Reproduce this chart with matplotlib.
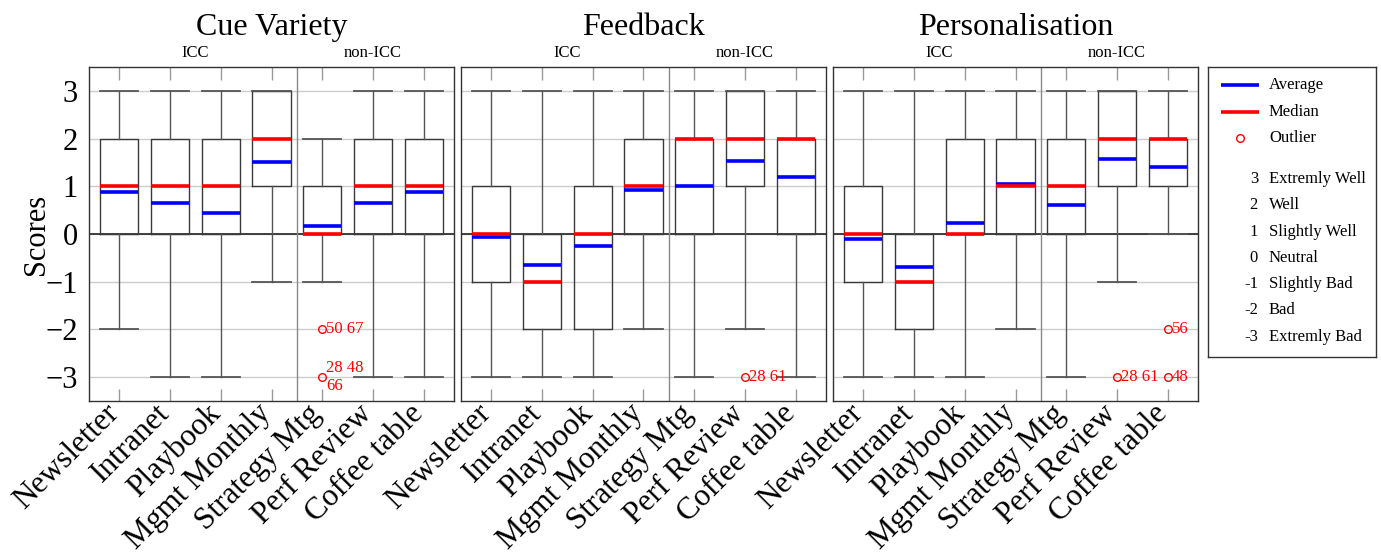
import numpy as np
import matplotlib
matplotlib.use("Agg")
from matplotlib import pyplot as plt
from matplotlib.transforms import ScaledTranslation

plt.rcParams['font.family'] = ['Liberation Serif', 'DejaVu Serif']
plt.rcParams['mathtext.fontset'] = 'stix'

categories = ['Newsletter', 'Intranet', 'Playbook', 'Mgmt Monthly',
              'Strategy Mtg', 'Perf Review', 'Coffee table']
panel_titles = ['Cue Variety', 'Feedback', 'Personalisation']

# Cue Variety
cue_whislo = [-2, -3, -3, -1, -1, -3, -3]
cue_q1 = [0, 0, 0, 1, 0, 0, 0]
cue_med = [1, 1, 1, 2, 0, 1, 1]
cue_q3 = [2, 2, 2, 3, 1, 2, 2]
cue_whishi = [3, 3, 3, 3, 2, 3, 3]
cue_mean = [0.87, 0.66, 0.45, 1.50, 0.16, 0.66, 0.87]
cue_fliers = {4: [(-2, '50 67'), (-3, '28 48\n66')]}

# Feedback
fb_whislo = [-3, -3, -3, -2, -3, -2, -3]
fb_q1 = [-1, -2, -2, 0, 0, 1, 0]
fb_med = [0, -1, 0, 1, 2, 2, 2]
fb_q3 = [1, 0, 1, 2, 2, 3, 2]
fb_whishi = [3, 3, 3, 3, 3, 3, 3]
fb_mean = [-0.06, -0.66, -0.26, 0.92, 1.00, 1.52, 1.19]
fb_fliers = {5: [(-3, '28 61')]}

# Personalisation
pers_whislo = [-3, -3, -3, -2, -3, -1, 0]
pers_q1 = [-1, -2, 0, 0, 0, 1, 1]
pers_med = [0, -1, 0, 1, 1, 2, 2]
pers_q3 = [1, 0, 2, 2, 2, 3, 2]
pers_whishi = [3, 3, 3, 3, 3, 3, 3]
pers_mean = [-0.10, -0.69, 0.23, 1.04, 0.60, 1.58, 1.40]
pers_fliers = {5: [(-3, '28 61')], 6: [(-2, '56'), (-3, '48')]}

scale_values = [3, 2, 1, 0, -1, -2, -3]
scale_labels = ['Extremly Well', 'Well', 'Slightly Well', 'Neutral',
                'Slightly Bad', 'Bad', 'Extremly Bad']

panels = [
    (cue_whislo, cue_q1, cue_med, cue_q3, cue_whishi, cue_mean, cue_fliers),
    (fb_whislo, fb_q1, fb_med, fb_q3, fb_whishi, fb_mean, fb_fliers),
    (pers_whislo, pers_q1, pers_med, pers_q3, pers_whishi, pers_mean, pers_fliers),
]

BIG = 22
XLAB = 22.5
TITLE = 23
SMALL = 12
box_w = 0.75
edge = '#3a3a3a'

fig = plt.figure(figsize=(13.81, 5.53), dpi=100)
lefts = [89, 461, 833]
axes = []
for i, left in enumerate(lefts):
    ax = fig.add_axes([left / 1381, (553 - 401) / 553, 365 / 1381, 334 / 553])
    axes.append(ax)

for i, (ax, data) in enumerate(zip(axes, panels)):
    whislo, q1, med, q3, whishi, mean, fliers = data
    pos = np.arange(1, len(categories) + 1)
    stats = []
    for k in range(len(categories)):
        stats.append(dict(med=med[k], q1=q1[k], q3=q3[k], whislo=whislo[k],
                          whishi=whishi[k], mean=mean[k],
                          fliers=[v for v, _ in fliers.get(k, [])]))

    ax.set_axisbelow(True)
    ax.grid(axis='y', color='#cccccc', lw=1)
    ax.axhline(0, color='#222222', lw=1.2, zorder=1.5)
    ax.axvline(4.5, color='#888888', lw=1, zorder=1.5)

    ax.bxp(stats, positions=pos, widths=box_w, capwidths=box_w,
           showmeans=True, meanline=True, showfliers=True,
           boxprops=dict(color=edge, lw=1),
           whiskerprops=dict(color='#555555', lw=1),
           capprops=dict(color='#555555', lw=1.3),
           medianprops=dict(color='red', lw=2.6, solid_capstyle='butt', zorder=4),
           meanprops=dict(color='blue', lw=2.6, linestyle='-', solid_capstyle='butt', zorder=3.5),
           flierprops=dict(marker='o', mfc='none', mec='red', ms=5.5, mew=1))

    for k, items in fliers.items():
        for v, lab in items:
            ax.text(pos[k] + 0.08, v, lab, color='red', fontsize=SMALL,
                    ha='left', va='center', linespacing=1.2)

    ax.set_xlim(0.4, 7.6)
    ax.set_ylim(-3.5, 3.5)
    ax.set_yticks(scale_values)
    ax.set_xticks(pos)
    ax.set_xticklabels(categories, rotation=45, ha='right', va='center',
                       rotation_mode='anchor', fontsize=XLAB)
    ax.tick_params(axis='x', direction='in', top=True, length=9, width=1,
                   color='#999999', pad=6)
    # nudge the slanted labels a little to the left
    shift = ScaledTranslation(-5 / 100, 0, fig.dpi_scale_trans)
    for lab in ax.get_xticklabels():
        lab.set_transform(lab.get_transform() + shift)
    ax.tick_params(axis='y', direction='in', left=True, right=True, length=0,
                   labelsize=BIG, pad=8)
    if i > 0:
        ax.tick_params(axis='y', labelleft=False)
    for sp in ax.spines.values():
        sp.set_color('#333333')
        sp.set_linewidth(1)

    ax.set_title(panel_titles[i], fontsize=TITLE, pad=23)
    ax.text(2.5, 3.62, 'ICC', fontsize=SMALL, ha='center', va='bottom')
    ax.text(6.0, 3.62, 'non-ICC', fontsize=SMALL, ha='center', va='bottom')

axes[0].set_ylabel('Scores', fontsize=BIG, labelpad=-4)

# legend panel
lg = fig.add_axes([1208 / 1381, (553 - 357) / 553, 168 / 1381, 290 / 553])
lg.set_xlim(1208, 1376)
lg.set_ylim(357, 67)
lg.set_xticks([])
lg.set_yticks([])
for sp in lg.spines.values():
    sp.set_color('#333333')
    sp.set_linewidth(1)
lg.plot([1221, 1259], [85, 85], color='blue', lw=2.6, solid_capstyle='butt')
lg.text(1269, 85, 'Average', fontsize=SMALL, va='center')
lg.plot([1221, 1259], [111.5, 111.5], color='red', lw=2.6, solid_capstyle='butt')
lg.text(1269, 111.5, 'Median', fontsize=SMALL, va='center')
lg.plot([1240], [138], marker='o', mfc='none', mec='red', ms=5.5, mew=1)
lg.text(1269, 138, 'Outlier', fontsize=SMALL, va='center')
for j, (v, lab) in enumerate(zip(scale_values, scale_labels)):
    yy = 179 + j * 26.3
    lg.text(1258, yy, str(v), fontsize=SMALL, va='center', ha='right')
    lg.text(1269, yy, lab, fontsize=SMALL, va='center')

fig.savefig('out.png', dpi=100)
